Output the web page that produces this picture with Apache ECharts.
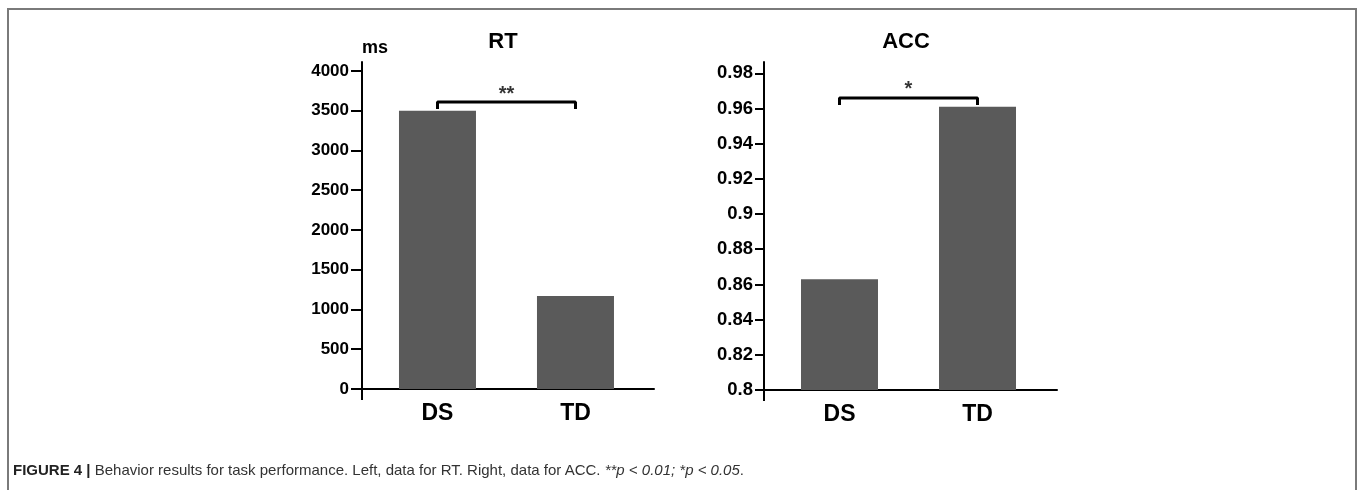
<!DOCTYPE html>
<html>
<head>
<meta charset="utf-8">
<script src="https://cdn.jsdelivr.net/npm/echarts@6/dist/echarts.min.js"></script>
<style>
  html, body { margin: 0; padding: 0; background: #fff; }
  #frame {
    position: absolute; left: 7px; top: 8px; width: 1346px; height: 490px;
    border: 2px solid #7a7a7a; border-bottom: none;
  }
  #main { position: absolute; left: 0; top: 0; width: 1357px; height: 490px; }
  #caption {
    position: absolute; left: 13px; top: 461px;
    font-family: "Liberation Sans", Arial, sans-serif; font-size: 15px; color: #333;
    white-space: nowrap;
  }
  #caption b { color: #222; }
</style>
</head>
<body>
<div id="frame"></div>
<div id="main"></div>
<div id="caption"><b>FIGURE 4 |</b> Behavior results for task performance. Left, data for RT. Right, data for ACC. <i>**p &lt; 0.01; *p &lt; 0.05</i>.</div>
<script>
// 组别
var groups = ['DS', 'TD'];

// 反应时 RT (ms)
var rt_values = [3500, 1170];
var rt_ticks = [0, 500, 1000, 1500, 2000, 2500, 3000, 3500, 4000];
var rt_bracket = [[0, 3522], [0, 3610], [1, 3610], [1, 3522]];
var rt_star = [[0.5, 3700]];

// 正确率 ACC
var acc_values = [0.863, 0.961];
var acc_ticks = [0.8, 0.82, 0.84, 0.86, 0.88, 0.9, 0.92, 0.94, 0.96, 0.98];
var acc_bracket = [[0, 0.962], [0, 0.966], [1, 0.966], [1, 0.962]];
var acc_star = [[0.5, 0.9705]];

var font = '"Liberation Sans", Arial, sans-serif';
var barColor = '#5a5a5a';

function xAxisCfg(idx, max) {
    return {
        type: 'value',
        gridIndex: idx,
        min: -0.547,
        max: max,
        axisLine: { onZero: false, lineStyle: { color: '#000', width: 2 } },
        axisTick: {
            show: true, inside: false, length: 11,
            customValues: [-0.547],
            lineStyle: { color: '#000', width: 2 }
        },
        axisLabel: {
            customValues: [0, 1],
            margin: 13,
            formatter: function (v) { return groups[Math.round(v)]; },
            color: '#000', fontFamily: font, fontWeight: 'bold', fontSize: 23
        },
        splitLine: { show: false }
    };
}

function yAxisCfg(idx, min, max, ticks, tickLen, size, name) {
    return {
        type: 'value',
        gridIndex: idx,
        min: min,
        max: max,
        name: name,
        nameLocation: 'end',
        nameGap: 5,
        nameTextStyle: {
            color: '#000', fontFamily: font, fontWeight: 'bold', fontSize: 18,
            align: 'left', verticalAlign: 'bottom'
        },
        axisLine: { show: true, onZero: false, lineStyle: { color: '#000', width: 2 } },
        axisTick: {
            show: true, inside: false, length: tickLen,
            customValues: ticks,
            lineStyle: { color: '#000', width: 2 }
        },
        axisLabel: {
            customValues: ticks,
            margin: tickLen + 2,
            formatter: function (v) { return String(v); },
            color: '#000', fontFamily: font, fontWeight: 'bold', fontSize: size
        },
        splitLine: { show: false }
    };
}

function barData(vals) {
    var out = [];
    for (var i = 0; i < vals.length; i++) out.push([i, vals[i]]);
    return out;
}

var myChart = echarts.init(document.getElementById('main'));
var option = {
    animation: false,
    title: [
        { text: 'RT', left: 498, top: 26, textAlign: 'center',
          textStyle: { fontFamily: font, fontWeight: 'bold', fontSize: 22, color: '#000' } },
        { text: 'ACC', left: 901, top: 26, textAlign: 'center',
          textStyle: { fontFamily: font, fontWeight: 'bold', fontSize: 22, color: '#000' } }
    ],
    grid: [
        { left: 362, width: 292, top: 62, bottom: 101 },
        { left: 764, width: 293, top: 62, bottom: 100 }
    ],
    xAxis: [xAxisCfg(0, 1.569), xAxisCfg(1, 1.576)],
    yAxis: [
        yAxisCfg(0, 0, 4113, rt_ticks, 11, 17, 'ms'),
        yAxisCfg(1, 0.8, 0.9864, acc_ticks, 9, 18.5, '')
    ],
    series: [
        {
            type: 'bar', xAxisIndex: 0, yAxisIndex: 0,
            data: barData(rt_values), barWidth: 77,
            itemStyle: { color: barColor }
        },
        {
            type: 'bar', xAxisIndex: 1, yAxisIndex: 1,
            data: barData(acc_values), barWidth: 77,
            itemStyle: { color: barColor }
        },
        {
            type: 'line', xAxisIndex: 0, yAxisIndex: 0,
            data: rt_bracket, symbol: 'none',
            lineStyle: { color: '#000', width: 3 }
        },
        {
            type: 'line', xAxisIndex: 1, yAxisIndex: 1,
            data: acc_bracket, symbol: 'none',
            lineStyle: { color: '#000', width: 3 }
        },
        {
            type: 'scatter', xAxisIndex: 0, yAxisIndex: 0,
            data: rt_star, symbolSize: 0,
            label: { show: true, position: 'inside', formatter: '**',
                     fontFamily: font, fontWeight: 'bold', fontSize: 20, color: '#000' }
        },
        {
            type: 'scatter', xAxisIndex: 1, yAxisIndex: 1,
            data: acc_star, symbolSize: 0,
            label: { show: true, position: 'inside', formatter: '*',
                     fontFamily: font, fontWeight: 'bold', fontSize: 20, color: '#000' }
        }
    ]
};
myChart.setOption(option);
</script>
</body>
</html>
